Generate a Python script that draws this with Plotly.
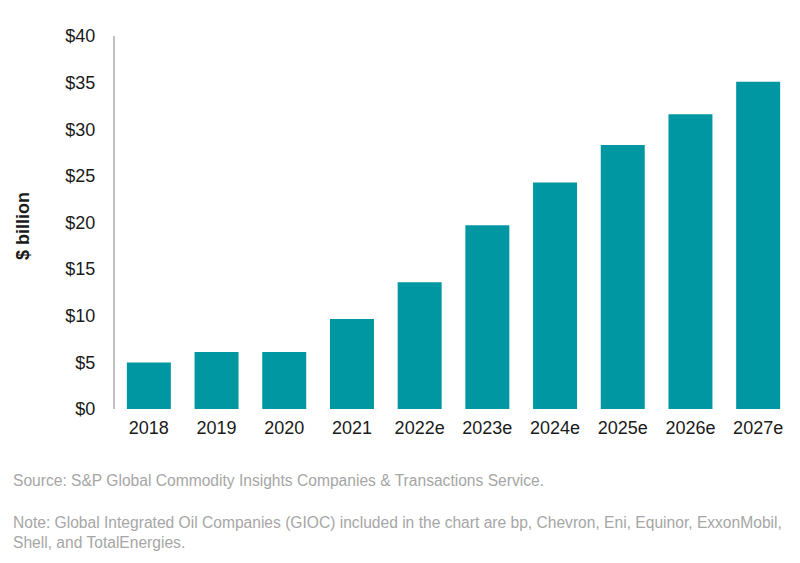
import plotly.graph_objects as go

categories = ["2018", "2019", "2020", "2021", "2022e", "2023e", "2024e", "2025e", "2026e", "2027e"]
values = [5.0, 6.1, 6.1, 9.65, 13.6, 19.7, 24.3, 28.3, 31.6, 35.1]
y_ticks = [0, 5, 10, 15, 20, 25, 30, 35, 40]
y_tick_labels = ["$0", "$5", "$10", "$15", "$20", "$25", "$30", "$35", "$40"]

source_text = "Source: S&P Global Commodity Insights Companies & Transactions Service."
note_text = ("Note: Global Integrated Oil Companies (GIOC) included in the chart are bp, Chevron, Eni, Equinor, ExxonMobil,<br>"
             "Shell, and TotalEnergies.")

font_family = "Liberation Sans, Arial, sans-serif"

# page body has an 8px margin, so figure is drawn offset by 8px
OFF = 8
W, H = 800 - OFF, 563 - OFF
L, R, T, B = 115 - OFF, 8, 36 - OFF, 563 - 409
PW, PH = W - L - R, H - T - B


def px(xp):
    return (xp - OFF - L) / PW


def py(yp):
    return (H - B - (yp - OFF)) / PH


fig = go.Figure(go.Bar(x=categories, y=values, marker=dict(color="#0097a3", line=dict(width=0))))

fig.update_layout(
    width=W, height=H,
    margin=dict(l=L, r=R, t=T, b=B),
    paper_bgcolor="white", plot_bgcolor="white",
    bargap=0.35, showlegend=False,
    font=dict(family=font_family, size=18, color="#1a1a1a"),
)
fig.update_xaxes(showgrid=False, showline=False, zeroline=False, ticks="",
                 tickfont=dict(size=18, color="#1a1a1a"), ticklabelstandoff=6)
fig.update_yaxes(range=[0, 40], tickvals=y_ticks, ticktext=y_tick_labels,
                 showgrid=False, zeroline=False, showline=True, linecolor="#c0c0c0", linewidth=2,
                 ticks="", tickfont=dict(size=18, color="#1a1a1a"), ticklabelstandoff=14)

fig.add_annotation(text="<b>$ billion</b>", x=px(23), y=py(226), xref="paper", yref="paper", showarrow=False,
                   textangle=-90, font=dict(size=18, color="#1a1a1a"), xanchor="center", yanchor="middle")

fig.add_annotation(text=source_text, xref="paper", yref="paper",
                   x=px(11), y=py(481),
                   xanchor="left", yanchor="middle", showarrow=False, align="left",
                   font=dict(size=15.6, color="#a6a6a6"))
fig.add_annotation(text=note_text, xref="paper", yref="paper",
                   x=px(11), y=py(532),
                   xanchor="left", yanchor="middle", showarrow=False, align="left",
                   font=dict(size=15.6, color="#a6a6a6"))

fig.write_html("out.html")
